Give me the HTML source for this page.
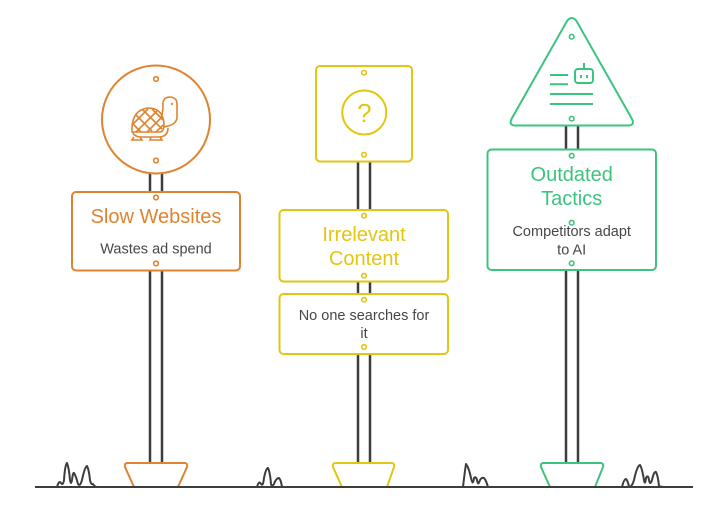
<!DOCTYPE html>
<html><head><meta charset="utf-8"><style>
html,body{margin:0;padding:0;background:#fff;}
svg{display:block;}
text{font-family:"Liberation Sans",Arial,sans-serif;}
</style></head><body>
<svg width="728" height="516" viewBox="0 0 728 516" xmlns="http://www.w3.org/2000/svg">
<!-- poles -->
<g stroke="#3d3d3d" stroke-width="2.5">
<line x1="150" y1="170" x2="150" y2="464"/><line x1="162" y1="170" x2="162" y2="464"/>
<line x1="358" y1="160" x2="358" y2="464"/><line x1="370" y1="160" x2="370" y2="464"/>
<line x1="566" y1="124" x2="566" y2="464"/><line x1="578" y1="124" x2="578" y2="464"/>
</g>
<!-- ground -->
<g fill="none" stroke="#3d3d3d" stroke-width="2" stroke-linejoin="round">
<path d="M35 487 H57 Q59 480 61 483 Q63 486 64 480 Q65 465 67 463 Q69 468 70 480 Q71 486 72 480 Q73 472 74 473 Q76 476 78 484 Q80 487 82 480 Q85 466 87 466 Q89 470 90 480 Q91 485 93 484 Q95 487 97 487 H257 Q259 480 261 484 Q263 487 264 478 Q266 468 268 468 Q270 472 271 484 Q272 487 274 484 Q276 478 279 478 Q281 480 282 487 H463 Q465 470 466 464 Q469 468 471 478 Q473 487 474 478 Q476 476 477 480 Q478 487 480 480 Q482 477 484 478 Q486 480 488 487 H622 Q624 479 626 479 Q628 481 629 487 Q632 487 634 480 Q637 466 640 465 Q642 468 644 480 Q645 486 646 478 Q648 474 649 480 Q650 486 652 480 Q654 471 656 472 Q658 476 659 486 Q661 487 664 487 H693"/>
</g>
<!-- bases -->
<path d="M128 463 H184 Q188 463 187 467 L178 487 H134 L125 467 Q124 463 128 463 Z" fill="#fff" stroke="#DF832F" stroke-width="2"/>
<path d="M336 463 H391 Q395 463 394 467 L387 487 H342 L333 467 Q332 463 336 463 Z" fill="#fff" stroke="#E2C612" stroke-width="2"/>
<path d="M544 463 H600 Q604 463 603 467 L595 487 H550 L541 467 Q540 463 544 463 Z" fill="#fff" stroke="#3CC47F" stroke-width="2"/>
<redraw/>
<path d="M35 487 H693" stroke="#3d3d3d" stroke-width="2"/>

<!-- ORANGE -->
<circle cx="156" cy="119.5" r="54" fill="#fff" stroke="#DF832F" stroke-width="2"/>
<g fill="none" stroke="#DF832F" stroke-width="1.6">
<circle cx="156" cy="79" r="2.3"/><circle cx="156" cy="160.5" r="2.3"/>
<!-- turtle -->
<path d="M132 132 Q131 110 148 108 Q163 108 164 124 Q164 132 160 132 Z"/>
<path d="M133 132 Q133 136 140 137 H160 Q168 136 168 128"/>
<path d="M161 118 Q163 112 163 106 Q162 98 169 97 Q177 97 177 104 V118 Q176 124 168 126 L164 127"/>
<circle cx="172" cy="104" r="0.4"/>
<path d="M136 115 L152 131 M142 109 L162 129 M152 109 L163 120 M133 124 L141 132 M133 124 L148 109 M136 132 L157 111 M147 132 L162 117 M156 132 L163 125"/>
<path d="M134 137 L132 140 H142 L140 137 M151 137 L150 140 H162 L160 137"/>
</g>
<rect x="72" y="192" width="168" height="78.5" rx="4" fill="#fff" stroke="#DF832F" stroke-width="2"/>
<g fill="none" stroke="#DF832F" stroke-width="1.6"><circle cx="156" cy="197.5" r="2.3"/><circle cx="156" cy="263.5" r="2.3"/></g>
<text x="156" y="223" text-anchor="middle" font-size="20" fill="#DF832F">Slow Websites</text>
<text x="156" y="253.5" text-anchor="middle" font-size="14.5" fill="#474747">Wastes ad spend</text>

<!-- YELLOW -->
<rect x="316" y="66" width="96" height="95.5" rx="4" fill="#fff" stroke="#E2C612" stroke-width="2"/>
<g fill="none" stroke="#E2C612" stroke-width="1.6"><circle cx="364" cy="72.7" r="2.3"/><circle cx="364" cy="154.7" r="2.3"/></g>
<circle cx="364.3" cy="112.5" r="22" fill="none" stroke="#E2C612" stroke-width="2"/>
<text x="364.3" y="122" text-anchor="middle" font-size="26" fill="#E2C612" font-weight="normal">?</text>
<rect x="279.5" y="210" width="168.5" height="71.5" rx="4" fill="#fff" stroke="#E2C612" stroke-width="2"/>
<g fill="none" stroke="#E2C612" stroke-width="1.6"><circle cx="364" cy="215.7" r="2.3"/><circle cx="364" cy="275.7" r="2.3"/></g>
<text x="364" y="241" text-anchor="middle" font-size="20" fill="#E2C612">Irrelevant</text>
<text x="364" y="265" text-anchor="middle" font-size="20" fill="#E2C612">Content</text>
<rect x="279.5" y="294" width="168.5" height="60" rx="4" fill="#fff" stroke="#E2C612" stroke-width="2"/>
<g fill="none" stroke="#E2C612" stroke-width="1.6"><circle cx="364" cy="299.7" r="2.3"/><circle cx="364" cy="347" r="2.3"/></g>
<text x="364" y="320" text-anchor="middle" font-size="14.5" fill="#474747">No one searches for</text>
<text x="364" y="338" text-anchor="middle" font-size="14.5" fill="#474747">it</text>

<!-- GREEN -->
<path d="M567 21 Q571.7 15 576.5 21 L632 119 Q635 125.5 628 125.5 H515.5 Q508.5 125.5 511.5 119 Z" fill="#fff" stroke="#3CC47F" stroke-width="2"/>
<g fill="none" stroke="#3CC47F" stroke-width="1.6"><circle cx="571.7" cy="36.7" r="2.3"/><circle cx="571.7" cy="118.7" r="2.3"/></g>
<g fill="none" stroke="#3CC47F" stroke-width="2">
<path d="M550 75 H568 M550 84.3 H568 M550 94 H593 M550 104 H593"/>
<rect x="575" y="69" width="18" height="14" rx="3"/>
<path d="M584 63 V69"/>
<path d="M581 75 V78 M587 75 V78"/>
</g>
<rect x="487.5" y="149.5" width="168.5" height="120.5" rx="4" fill="#fff" stroke="#3CC47F" stroke-width="2"/>
<g fill="none" stroke="#3CC47F" stroke-width="1.6"><circle cx="571.7" cy="155.7" r="2.3"/><circle cx="571.7" cy="222.7" r="2.3"/><circle cx="571.7" cy="263.3" r="2.3"/></g>
<text x="571.7" y="181" text-anchor="middle" font-size="20" fill="#3CC47F">Outdated</text>
<text x="571.7" y="205" text-anchor="middle" font-size="20" fill="#3CC47F">Tactics</text>
<text x="571.7" y="236" text-anchor="middle" font-size="14.5" fill="#474747">Competitors adapt</text>
<text x="571.7" y="254.5" text-anchor="middle" font-size="14.5" fill="#474747">to AI</text>
</svg>
</body></html>
